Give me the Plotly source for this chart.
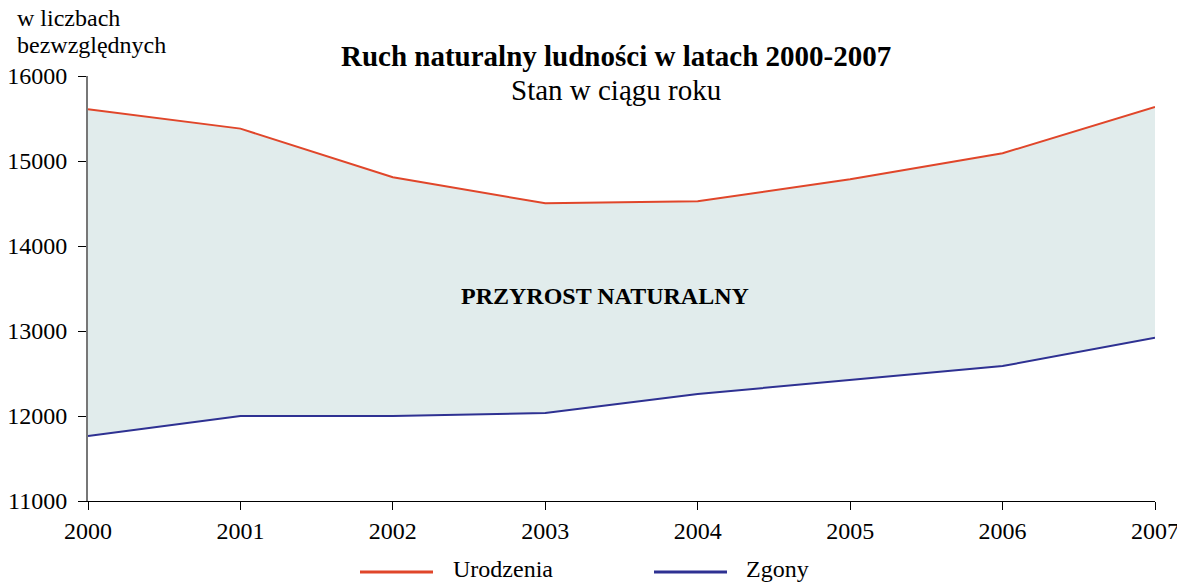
import plotly.graph_objects as go

years = [2000, 2001, 2002, 2003, 2004, 2005, 2006, 2007]
urodzenia = [15608, 15381, 14808, 14502, 14526, 14785, 15091, 15635]
zgony = [11765, 12000, 12000, 12035, 12259, 12424, 12588, 12921]
y_ticks = [11000, 12000, 13000, 14000, 15000, 16000]

red = "#e0462a"
blue = "#2e3192"
fill = "#e1ecec"
font = "Liberation Serif"

W, H = 1177, 582
L, R, T, B = 88, 22, 76, 81
pw, ph = W - L - R, H - T - B


def px_x(px):
    return (px - L) / pw


def px_y(py):
    return 1 - (py - T) / ph


def ann(text, x, y, size=24, xanchor="center", bold=False):
    if bold:
        text = "<b>" + text + "</b>"
    return dict(text=text, x=px_x(x), y=px_y(y), xref="paper", yref="paper",
                xanchor=xanchor, yanchor="middle", showarrow=False,
                font=dict(family=font, size=size, color="black"))


fig = go.Figure()
fig.add_trace(go.Scatter(x=years, y=zgony, mode="lines", name="Zgony",
                         line=dict(color=blue, width=2), showlegend=False))
fig.add_trace(go.Scatter(x=years, y=urodzenia, mode="lines", name="Urodzenia",
                         line=dict(color=red, width=2), fill="tonexty",
                         fillcolor=fill, showlegend=False))

tickfont = dict(family=font, size=24, color="black")

fig.update_layout(
    width=W, height=H,
    margin=dict(l=L, r=R, t=T, b=B, autoexpand=False),
    paper_bgcolor="white", plot_bgcolor="white",
    font=dict(family=font, size=24, color="black"),
    xaxis=dict(range=[2000, 2007], tickvals=years, ticks="outside", ticklen=8,
               tickcolor="black", showline=True, linecolor="black", linewidth=1,
               showgrid=False, zeroline=False, tickfont=tickfont,
               ticklabeloverflow="allow", automargin=False),
    yaxis=dict(range=[11000, 16000], tickvals=y_ticks,
               ticktext=[str(v) for v in y_ticks], ticks="outside", ticklen=8,
               tickcolor="black", showline=True, linecolor="#777777", linewidth=2,
               showgrid=False, zeroline=False, tickfont=tickfont,
               ticklabelstandoff=6, automargin=False),
    annotations=[
        ann("Ruch naturalny ludności w latach 2000-2007", 616, 56, size=29, bold=True),
        ann("Stan w ciągu roku", 616, 90, size=29),
        ann("w liczbach", 15, 18, xanchor="left"),
        ann("bezwzględnych", 15, 45, xanchor="left"),
        dict(text="<b>PRZYROST NATURALNY</b>", x=2003.39, y=13412, xref="x", yref="y",
             xanchor="center", yanchor="middle", showarrow=False,
             font=dict(family=font, size=24, color="black")),
        ann("Urodzenia", 451, 569, xanchor="left"),
        ann("Zgony", 744, 569, xanchor="left"),
    ],
)

fig.add_shape(type="line", xref="paper", yref="paper", x0=px_x(360), x1=px_x(433),
              y0=px_y(572), y1=px_y(572), line=dict(color=red, width=3))
fig.add_shape(type="line", xref="paper", yref="paper", x0=px_x(654), x1=px_x(727),
              y0=px_y(572), y1=px_y(572), line=dict(color=blue, width=3))

fig.write_html("out.html", config={"displayModeBar": False},
               post_script="document.body.style.margin='0';")
